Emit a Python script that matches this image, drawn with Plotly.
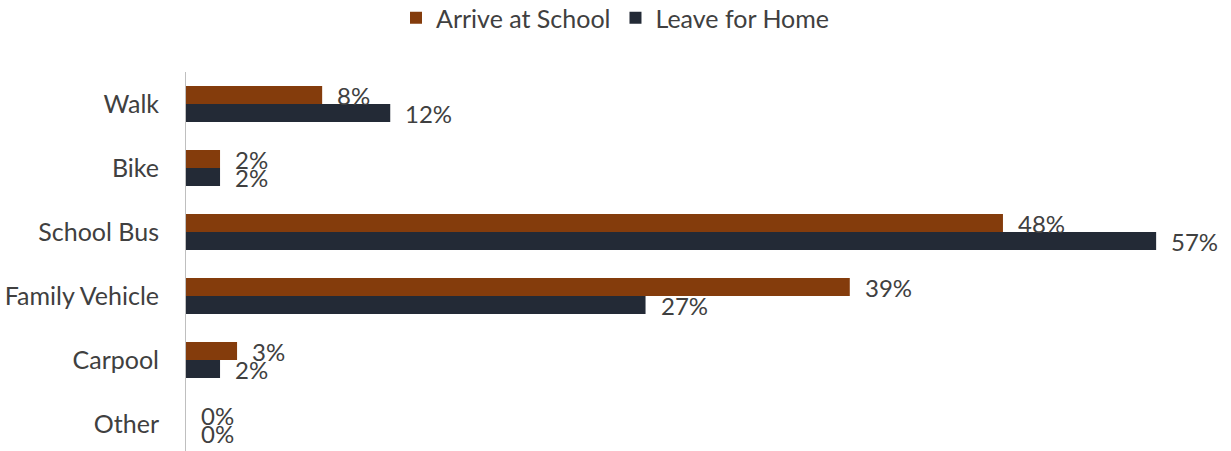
import plotly.graph_objects as go

categories = ["Walk", "Bike", "School Bus", "Family Vehicle", "Carpool", "Other"]
arrive = [8, 2, 48, 39, 3, 0]
leave = [12, 2, 57, 27, 2, 0]
series_names = ["Arrive at School", "Leave for Home"]
colors = ["#843C0C", "#232A36"]

FONT = "Lato"
TXT = "#404040"
FS = 25

fig = go.Figure()
for name, vals, col in zip(series_names, [arrive, leave], colors):
    fig.add_trace(go.Bar(
        y=categories, x=vals, name=name, orientation="h",
        marker=dict(color=col, line=dict(width=0)),
    ))

annotations = []
for vals, ys in [(arrive, 9), (leave, -9)]:
    for c, v in zip(categories, vals):
        annotations.append(dict(
            x=v, y=c, xref="x", yref="y", text=f"{v}%", showarrow=False,
            xanchor="left", yanchor="middle", xshift=13, yshift=ys,
            font=dict(family=FONT, size=24, color=TXT),
        ))

fig.update_layout(
    width=1231, height=451,
    margin=dict(l=186, r=10, t=72, b=0, autoexpand=False),
    paper_bgcolor="white", plot_bgcolor="white",
    barmode="group", bargap=0.4375, bargroupgap=0,
    font=dict(family=FONT, size=FS, color=TXT),
    legend=dict(
        orientation="h", xref="container", yref="container",
        x=0.5, xanchor="center", y=1 - 18 / 451, yanchor="middle",
        font=dict(family=FONT, size=FS, color=TXT),
        itemwidth=30, traceorder="normal",
    ),
    annotations=annotations,
    showlegend=True,
)
fig.update_xaxes(range=[0, (1221 - 186) / 17.02], visible=False, showgrid=False,
                 automargin=False)
fig.update_yaxes(
    categoryorder="array", categoryarray=categories,
    range=[5.42, -0.5], showline=True, linecolor="#BFBFBF", linewidth=1,
    ticks="", showgrid=False, ticklabelstandoff=21, automargin=False,
    tickfont=dict(family=FONT, size=FS, color=TXT),
)

fig.write_html(
    "out.html",
    config={"displayModeBar": False},
    post_script="document.body.style.margin='0px';document.body.style.overflow='hidden';",
)
